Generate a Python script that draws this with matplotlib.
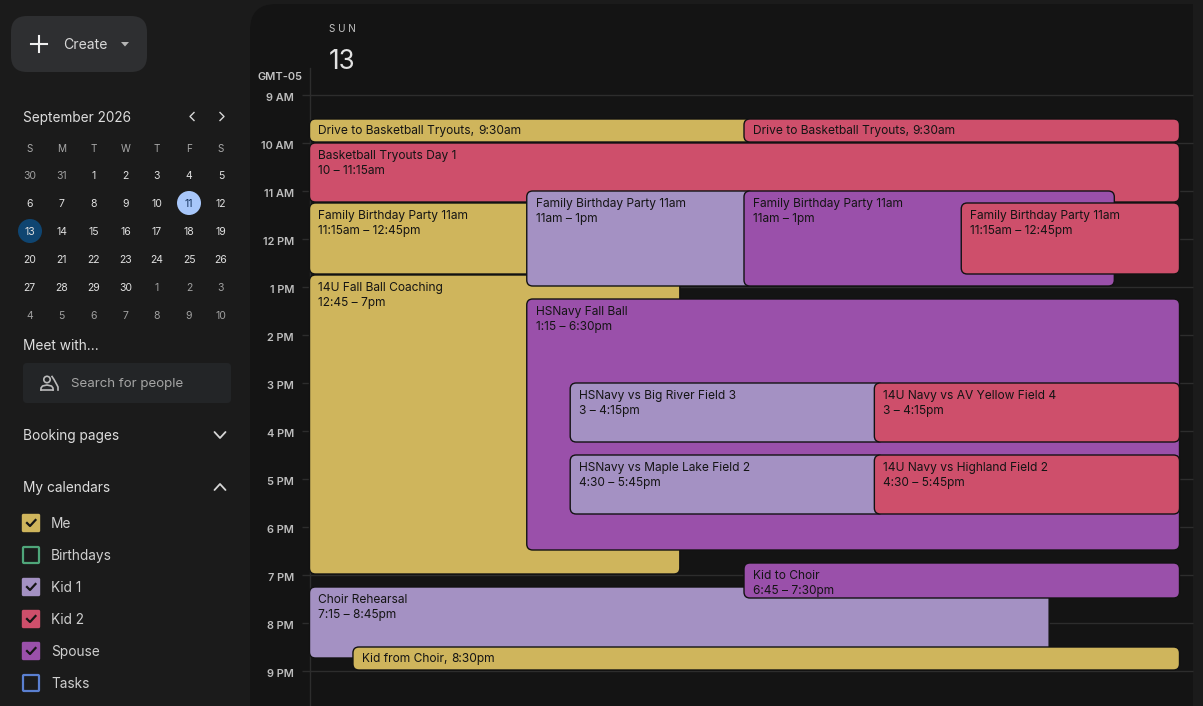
import matplotlib
matplotlib.use("Agg")
import matplotlib.pyplot as plt
from matplotlib.patches import FancyBboxPatch, Circle, Rectangle, Polygon

plt.rcParams['font.family'] = ['Inter', 'DejaVu Sans']

# colours
ME = '#cfb55c'
BIRTHDAYS = '#4fa67a'
KID1 = '#a491c3'
KID2 = '#ce4f6b'
SPOUSE = '#9a50aa'
TASKS = '#5a7fd0'
SIDE_BG = '#1b1b1b'
PANEL_BG = '#141414'
GRID = '#2d2d2d'
TEXT = '#d6d6d6'
EVENT_TEXT = '#141414'

# events, in draw order. hours are 24h, left/right are percent of the day column
event_titles = ['Drive to Basketball Tryouts', 'Drive to Basketball Tryouts', 'Basketball Tryouts Day 1',
                'Family Birthday Party 11am', '14U Fall Ball Coaching', 'Family Birthday Party 11am',
                'Family Birthday Party 11am', 'Family Birthday Party 11am', 'HSNavy Fall Ball',
                'HSNavy vs Big River Field 3', '14U Navy vs AV Yellow Field 4',
                'HSNavy vs Maple Lake Field 2', '14U Navy vs Highland Field 2',
                'Choir Rehearsal', 'Kid to Choir', 'Kid from Choir']
event_times = ['9:30am', '9:30am', '10 – 11:15am',
               '11:15am – 12:45pm', '12:45 – 7pm', '11am – 1pm', '11am – 1pm',
               '11:15am – 12:45pm', '1:15 – 6:30pm',
               '3 – 4:15pm', '3 – 4:15pm',
               '4:30 – 5:45pm', '4:30 – 5:45pm',
               '7:15 – 8:45pm', '6:45 – 7:30pm', '8:30pm']
event_start = [9.5, 9.5, 10, 11.25, 12.75, 11, 11, 11.25, 13.25, 15, 15, 16.5, 16.5, 19.25, 18.75, 20.5]
event_end = [10, 10, 11.25, 12.75, 19, 13, 13, 12.75, 18.5, 16.25, 16.25, 17.75, 17.75, 20.75, 19.5, 21]
event_left = [0, 50, 0, 0, 0, 25, 50, 75, 25, 30, 65, 30, 65, 0, 50, 5]
event_right = [51, 100, 100, 26, 42.5, 51, 92.5, 100, 100, 66, 100, 66, 100, 85, 100, 100]
event_colors = [ME, KID2, KID2, ME, ME, KID1, SPOUSE, KID2, SPOUSE, KID1, KID2, KID1, KID2, KID1, SPOUSE, ME]
event_inline = [True, True, False, False, False, False, False, False, False,
                False, False, False, False, False, False, True]

hours = [9, 10, 11, 12, 13, 14, 15, 16, 17, 18, 19, 20, 21]
hour_labels = ['9 AM', '10 AM', '11 AM', '12 PM', '1 PM', '2 PM', '3 PM', '4 PM', '5 PM', '6 PM', '7 PM', '8 PM', '9 PM']

# mini month
week_days = ['S', 'M', 'T', 'W', 'T', 'F', 'S']
month_rows = [[30, 31, 1, 2, 3, 4, 5],
              [6, 7, 8, 9, 10, 11, 12],
              [13, 14, 15, 16, 17, 18, 19],
              [20, 21, 22, 23, 24, 25, 26],
              [27, 28, 29, 30, 1, 2, 3],
              [4, 5, 6, 7, 8, 9, 10]]

calendar_names = ['Me', 'Birthdays', 'Kid 1', 'Kid 2', 'Spouse', 'Tasks']
calendar_colors = [ME, BIRTHDAYS, KID1, KID2, SPOUSE, TASKS]
calendar_checked = [True, False, True, True, True, False]

W, H = 1203, 706
fig = plt.figure(figsize=(W / 100, H / 100), dpi=100, facecolor=SIDE_BG)

# sidebar and chrome, in pixels
pax = fig.add_axes([0, 0, 1, 1], zorder=0)
pax.set_xlim(0, W)
pax.set_ylim(H, 0)
pax.axis('off')


def px(size):
    return size * 0.72


def label(x, y, s, size=13.7, color=TEXT, ha='left', **kw):
    return pax.text(x, y + 1.2, s, fontsize=px(size), color=color, ha=ha, va='center', **kw)


def rbox(x0, y0, x1, y1, r, **kw):
    p = FancyBboxPatch((x0, y0), x1 - x0, y1 - y0, boxstyle=f'round,pad=0,rounding_size={r}', **kw)
    pax.add_patch(p)
    return p


def chevron(x, y, dx, dy, color=TEXT, lw=1.3):
    pax.plot([x - dx, x, x + dx], [y - dy, y + dy, y - dy], color=color, lw=lw, solid_capstyle='round')


rbox(250, 4, W + 40, H + 40, 26, fc=PANEL_BG, ec='none')
pax.add_patch(Rectangle((1193, 0), 10, H, fc=SIDE_BG, ec='none'))

# create button
rbox(11, 16, 147, 72, 16, fc='#2e2f31', ec='none')
pax.plot([31, 47], [44, 44], color='#f0f0f0', lw=1.5)
pax.plot([39, 39], [36, 52], color='#f0f0f0', lw=1.5)
label(63, 44, 'Create', 14, '#d8d8d8')
pax.add_patch(Polygon([[121, 42], [129, 42], [125, 46.5]], fc='#b5b5b5', ec='none'))

# month header
label(23, 117, 'September 2026', 13.6, '#dddddd')
pax.plot([194, 190, 194], [112.5, 116.5, 120.5], color=TEXT, lw=1.0)
pax.plot([220, 224, 220], [112.5, 116.5, 120.5], color=TEXT, lw=1.0)

col_x = [29.7, 61.7, 93.5, 125.4, 157, 189, 221]
row_y = [175, 203, 231, 259, 287, 315]
for cx, d in zip(col_x, week_days):
    label(cx, 147.5, d, 10, '#a8a8a8', ha='center')
pax.add_patch(Circle((189, 203), 12, fc='#a8c7fa', ec='none'))
pax.add_patch(Circle((30, 231), 12, fc='#0f4571', ec='none'))
for r, row in enumerate(month_rows):
    for c, day in enumerate(row):
        outside = (r == 0 and day > 20) or (r >= 4 and day < 20)
        color = '#a0a0a0' if outside else '#e0e0e0'
        if r == 1 and day == 11:
            color = '#12305c'
        label(col_x[c], row_y[r], str(day), 10.5, color, ha='center')

# meet with
label(23, 345, 'Meet with...', 13.7, '#dddddd')
rbox(23, 363, 231, 403, 4, fc='#232527', ec='none')
pax.add_patch(Circle((47, 379.5), 3.2, fc='none', ec='#bbbbbb', lw=1.2))
pax.plot([41, 41, 42.5, 47, 51.5, 53, 53], [390, 388, 386, 385, 386, 388, 390], color='#bbbbbb', lw=1.2)
pax.plot([41, 53], [390, 390], color='#bbbbbb', lw=1.2)
pax.plot([52, 54, 57, 58, 58], [376.5, 379.5, 385, 387, 390], color='#bbbbbb', lw=1.2)
label(71, 383, 'Search for people', 13.3, '#a5a5a5')

label(23, 435, 'Booking pages', 13.7, '#dddddd')
chevron(220, 435, 5.5, 3)
label(23, 487, 'My calendars', 13.7, '#dddddd')
chevron(220, 487, 5.5, -3)

# calendar list
for i, name in enumerate(calendar_names):
    y = 523 + i * 32
    color = calendar_colors[i]
    if calendar_checked[i]:
        rbox(22.5, y - 8.5, 39.5, y + 8.5, 1, fc=color, ec=color, lw=1)
        pax.plot([27, 30, 35.5], [y, y + 3, y - 3], color='#161616', lw=1.6)
    else:
        rbox(23, y - 8, 39, y + 8, 1, fc='none', ec=color, lw=1.6)
    label(51, y - 0.5, name, 13.7, '#cfcfcf')

# day header
label(342, 27.5, 'S U N', 10, '#c4c4c4', ha='center')
label(342, 61, '13', 26, '#e2e2e2', ha='center')
label(280.5, 75.5, 'GMT-05', 11, '#c4c4c4', ha='center', fontweight='semibold')
pax.plot([310.3, 310.3], [68, H], color=GRID, lw=1)

# day grid: x is percent of the column, y is hour of day
ax = fig.add_axes([0, 0, 1, 1], zorder=1)
ax.patch.set_alpha(0)
PX_PER_PCT = 8.69
PX_PER_HOUR = 48
ax.set_xlim(-310 / PX_PER_PCT, (W - 310) / PX_PER_PCT)
ax.set_ylim(9 + (H - 95.5) / PX_PER_HOUR, 9 - 95.5 / PX_PER_HOUR)
ax.axis('off')

line_left = -8 / PX_PER_PCT
line_right = (1193 - 310) / PX_PER_PCT
ax.hlines(hours, line_left, line_right, color=GRID, lw=1, zorder=1)
for h, t in zip(hours, hour_labels):
    ax.annotate(t, xy=(0, h), xytext=(-16, -3), textcoords='offset pixels', ha='right', va='center',
                fontsize=px(11), color='#bdbdbd', fontweight='semibold')

gap = 2 / PX_PER_HOUR
radius = 6 / PX_PER_PCT
edge_x = 0.5 / PX_PER_PCT
edge_y = 0.5 / PX_PER_HOUR
renderer = fig.canvas.get_renderer()
for i in range(len(event_titles)):
    left, right = event_left[i], event_right[i]
    start, end = event_start[i], event_end[i]
    zorder = 2 + i
    box = FancyBboxPatch((left - edge_x, start - edge_y), right - left + 2 * edge_x, end - gap - start + 2 * edge_y,
                         boxstyle=f'round,pad=0,rounding_size={radius}',
                         mutation_aspect=PX_PER_PCT / PX_PER_HOUR,
                         fc=event_colors[i], ec='#121212', lw=1, zorder=zorder)
    ax.add_patch(box)
    if event_inline[i]:
        t = ax.annotate(event_titles[i] + ', ', xy=(left, start), xytext=(8.5, -14.5), textcoords='offset pixels',
                        fontsize=px(12), color=EVENT_TEXT, va='baseline', zorder=zorder + 0.5)
        w = t.get_window_extent(renderer).width
        ax.annotate(event_times[i], xy=(left, start), xytext=(8.5 + w, -14.5), textcoords='offset pixels',
                    fontsize=px(12), color=EVENT_TEXT, va='baseline', zorder=zorder + 0.5)
    else:
        ax.annotate(event_titles[i], xy=(left, start), xytext=(8.5, -16), textcoords='offset pixels',
                    fontsize=px(12), color=EVENT_TEXT, va='baseline', zorder=zorder + 0.5)
        ax.annotate(event_times[i], xy=(left, start), xytext=(8.5, -31), textcoords='offset pixels',
                    fontsize=px(11.9), color=EVENT_TEXT, va='baseline', zorder=zorder + 0.5)

fig.savefig('out.png', dpi=100, facecolor=SIDE_BG)
